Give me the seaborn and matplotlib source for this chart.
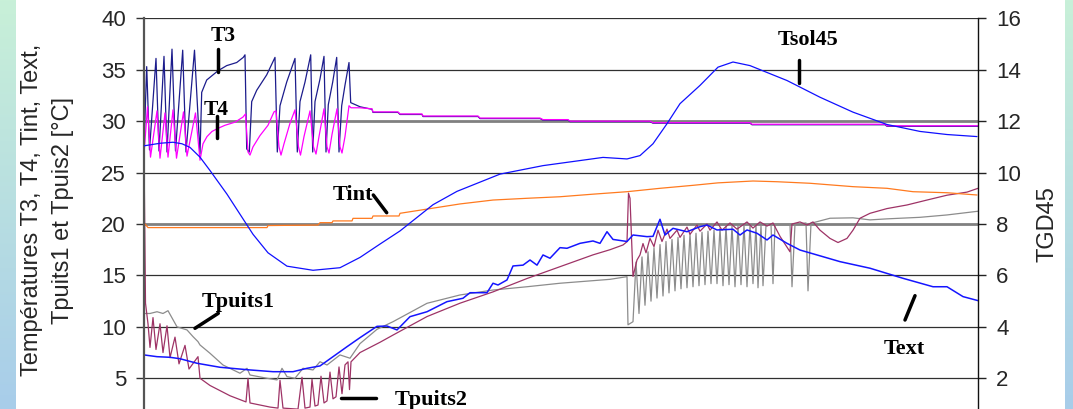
import numpy as np
import pandas as pd
import matplotlib
matplotlib.use("Agg")
import matplotlib.pyplot as plt
from matplotlib.lines import Line2D
from matplotlib.transforms import Affine2D
from matplotlib.colors import LinearSegmentedColormap
import seaborn as sns

sns.set_theme(style="white")
plt.rcParams['font.family'] = ['Liberation Sans', 'DejaVu Sans']

# time axis in hours, temperatures in degC (left axis), TGD45 on right axis
t3_h = [0, 0.27, 0.55, 1.2, 1.5, 2.0, 2.3, 2.8, 3.15, 3.87, 4.2, 5.05, 5.6, 5.77, 6.27, 7.4,
        8.27, 9.27, 9.93, 10.1, 10.27, 10.53, 10.77, 11.27, 12.27, 13.1, 13.33, 13.6, 14.27,
        15.1, 15.33, 15.6, 16.1, 16.67, 16.87, 17.1, 17.6, 18.0, 18.2, 18.43, 18.87, 19.27,
        19.5, 19.77, 20.1, 20.5, 20.67, 21.6]
t3_v = [27.5, 35.3, 27.2, 36.1, 27.1, 36.3, 27.0, 37.0, 27.1, 36.9, 27.0, 36.9, 26.8, 32.8,
        34.0, 34.9, 35.4, 35.7, 36.2, 36.45, 27.3, 27.0, 31.9, 33.0, 34.5, 36.2, 27.0, 31.5,
        33.8, 36.1, 27.0, 31.9, 33.8, 36.45, 27.0, 31.9, 34.1, 36.3, 27.0, 31.6, 33.8, 36.2,
        27.0, 31.5, 33.5, 35.7, 31.8, 31.4]

t4_h = [0, 0.35, 0.65, 1.3, 1.6, 2.1, 2.4, 2.9, 3.25, 3.95, 4.3, 5.15, 5.6, 5.9, 6.3, 6.8,
        7.4, 8.1, 9.1, 9.9, 10.15, 10.4, 10.6, 10.9, 11.6, 12.4, 13.0, 13.2, 13.5, 13.7, 14.0,
        14.6, 15.1, 15.45, 15.65, 16.0, 16.6, 16.95, 17.2, 17.5, 18.0, 18.3, 18.5, 18.8, 19.3,
        19.6, 19.8, 20.1, 20.5, 20.7, 21.6]
t4_v = [26.8, 31.4, 26.5, 31.0, 26.4, 30.8, 26.5, 31.1, 26.4, 30.9, 26.6, 30.8, 26.2, 27.8,
        28.5, 29.0, 29.3, 29.6, 29.9, 30.4, 30.7, 27.0, 26.7, 27.5, 28.6, 29.6, 30.9, 31.0,
        27.5, 26.7, 27.8, 29.8, 31.1, 27.5, 26.7, 28.5, 31.0, 27.5, 26.8, 28.5, 31.2, 27.5,
        26.9, 28.7, 31.2, 27.5, 26.9, 28.5, 31.5, 31.3, 31.3]

# common slow decay of T3 and T4 after the cycling stops
tail_h = [22.8, 22.9, 25.4, 25.6, 27.8, 27.9, 33.4, 33.6, 39.6, 39.9, 42.4, 42.6, 50.6,
          50.9, 60.6, 60.8, 74.1, 74.3, 83.4]
tail_v = [31.2, 30.9, 30.9, 30.7, 30.7, 30.5, 30.5, 30.3, 30.3, 30.15, 30.15, 30.0, 30.0,
          29.85, 29.85, 29.7, 29.7, 29.55, 29.55]

tint_h = [0.1, 0.4, 12.3, 12.4, 17.4, 17.6, 18.8, 18.9, 20.8, 20.9, 22.8, 22.9, 25.5, 25.6,
          31.6, 34.9, 38.3, 41.6, 44.9, 48.3, 51.6, 54.9, 57.4, 60.9, 63.3, 66.6, 70.9, 74.3,
          76.9, 80.3, 83.3]
tint_v = [20.0, 19.65, 19.65, 19.85, 19.9, 20.13, 20.13, 20.3, 20.3, 20.55, 20.55, 20.78,
          20.78, 21.04, 21.95, 22.33, 22.5, 22.65, 22.9, 23.14, 23.47, 23.76, 24.0, 24.18,
          24.11, 23.96, 23.63, 23.47, 23.14, 23.04, 22.82]

text_h = [0, 1.3, 2.6, 3.6, 5.3, 7.6, 10.6, 12.9, 14.9, 16.3, 17.6, 18.9, 20.3, 21.6, 23.3,
          24.3, 25.3, 26.6, 28.3, 30.3, 31.9, 32.6, 34.3, 34.9, 35.4, 36.3, 36.9, 37.9, 38.6,
          39.3, 39.9, 40.6, 41.6, 42.3, 43.6, 44.9, 45.6, 46.3, 46.9, 48.3, 48.9, 50.3, 50.9,
          51.6, 52.1, 52.9, 54.3, 55.6, 56.3, 57.3, 58.9, 59.6, 60.3, 61.3, 62.3, 62.9, 64.3,
          65.6, 67.3, 69.6, 72.6, 75.9, 78.9, 80.3, 81.9, 83.4]
text_v = [7.27, 7.1, 7.04, 6.9, 6.46, 6.07, 5.81, 5.64, 5.64, 5.97, 6.2, 7.1, 8.07, 8.95,
          10.05, 10.08, 9.7, 10.99, 11.47, 12.45, 12.78, 13.32, 13.32, 14.24, 14.07, 14.56,
          15.92, 16.0, 16.5, 16.0, 16.99, 16.67, 17.7, 17.64, 18.12, 18.35, 18.12, 19.25,
          18.5, 18.3, 18.93, 18.77, 18.8, 20.46, 18.93, 19.58, 19.25, 19.74, 19.9, 19.42,
          19.49, 18.93, 19.42, 19.1, 18.45, 18.93, 18.12, 17.47, 16.99, 16.34, 15.7, 14.72,
          13.9, 13.9, 12.94, 12.55]

tp1_h = [0.1, 0.6, 1.3, 1.9, 2.4, 3.3, 4.3, 4.9, 5.4, 5.6, 6.6, 7.9, 9.6, 10.3, 10.6, 12.3,
         13.3, 13.8, 14.3, 15.1, 15.9, 16.9, 17.6, 18.3, 19.6, 20.6, 21.6, 23.3, 24.9, 28.3,
         31.6, 34.9, 38.3, 41.6, 44.9, 46.6, 48.3, 48.4, 48.9,
         49.2, 49.5, 49.8, 50.1, 50.4, 50.7, 51.0, 51.3, 51.6, 51.9, 52.2, 52.5, 52.8, 53.1,
         53.4, 53.7, 54.0, 54.3, 54.6, 54.9, 55.2, 55.5, 55.8, 56.1, 56.4, 56.7, 57.0, 57.3,
         57.6, 57.9, 58.2, 58.5, 58.8, 59.1, 59.4, 59.7, 60.0, 60.3, 60.6, 60.9, 61.2, 61.4,
         61.7, 61.9, 62.2, 62.7, 62.9, 63.1, 64.6, 64.8, 65.1, 66.2, 66.4, 66.7, 68.6, 70.9,
         72.6, 74.3, 77.6, 80.3, 83.4]
tp1_v = [11.3, 11.3, 11.47, 11.3, 11.57, 10.0, 9.7, 9.05, 8.56, 8.24, 7.43, 6.29, 5.49, 5.97,
         5.32, 5.0, 4.84, 5.97, 5.16, 5.0, 5.97, 5.81, 6.61, 6.29, 7.27, 6.95, 8.37, 9.76,
         10.5, 12.29, 13.1, 13.58, 13.9, 14.24, 14.49, 14.62, 14.88, 10.2, 10.5,
         16.3, 11.3, 16.8, 12.1, 17.3, 12.5, 17.7, 12.8, 18.0, 13.0, 18.3, 13.3, 18.5, 13.5,
         18.7, 13.7, 18.9, 13.8, 19.0, 13.9, 19.1, 14.0, 19.2, 14.1, 19.3, 14.2, 19.4, 14.2,
         19.6, 14.0, 19.8, 14.1, 19.8, 13.9, 19.8, 14.1, 19.9, 13.9, 19.9, 14.2, 19.9, 13.8,
         19.9, 14.0, 19.9, 20.0, 14.2, 20.0, 20.0, 13.9, 20.0, 20.1, 13.5, 20.07, 20.56, 20.6,
         20.4, 20.5, 20.65, 20.88, 21.24]

tp2_h = [0, 0.15, 0.4, 0.6, 0.9, 1.2, 1.6, 1.9, 2.3, 2.6, 3.1, 3.5, 4.1, 4.5, 5.4, 5.6, 6.6,
         8.6, 10.2, 10.4, 10.6, 12.6, 13.4, 13.6, 13.9, 15.4, 15.8, 16.1, 16.6, 16.8, 17.1,
         17.4, 17.7, 18.0, 18.3, 18.6, 18.9, 19.2, 19.5, 19.8, 20.1, 20.4, 20.55, 20.7, 21.6,
         23.6, 24.9, 28.3, 31.6, 34.9, 38.3, 41.6, 44.9, 46.6, 47.9, 48.3, 48.45, 48.6, 48.9,
         49.3, 49.6, 49.9, 50.2, 50.6, 51.0, 51.4, 51.8, 52.3, 52.6, 53.3, 53.6, 54.3, 54.6,
         55.3, 55.6, 56.3, 56.6, 57.3, 57.8, 58.6, 59.3, 60.3, 60.9, 61.6, 62.3, 62.9, 63.6,
         64.6, 64.8, 65.6, 66.3, 66.9, 67.6, 68.6, 69.4, 70.3, 70.9, 71.6, 72.6, 74.3, 76.3,
         78.3, 80.3, 82.3, 83.4]
tp2_v = [27.0, 12.3, 10.3, 8.0, 10.9, 7.8, 10.3, 7.5, 10.1, 7.0, 9.0, 6.4, 8.2, 5.9, 7.1, 5.0,
         4.3, 3.3, 2.7, 5.0, 2.6, 2.2, 2.1, 4.8, 2.1, 2.0, 5.1, 2.1, 2.2, 4.9, 2.3, 2.4, 5.2,
         2.6, 2.8, 5.6, 3.0, 3.2, 6.1, 3.5, 6.3, 6.6, 3.9, 6.6, 7.5, 8.5, 9.2, 11.0, 12.3,
         13.4, 14.7, 15.85, 17.0, 17.5, 17.96, 18.28, 23.0, 22.5, 14.9, 16.5, 17.0, 18.1,
         17.2, 18.6, 17.8, 19.4, 18.3, 19.5, 18.6, 19.4, 18.7, 19.7, 19.0, 19.9, 19.3, 20.0,
         19.4, 20.2, 19.4, 20.1, 19.5, 20.2, 19.6, 20.2, 19.8, 20.1, 18.8, 17.3, 20.0, 20.2,
         19.9, 20.2, 19.4, 18.6, 18.2, 18.6, 19.4, 20.56, 21.04, 21.5, 21.85, 22.33, 22.8,
         23.1, 23.47]

tsol_h = [0, 1.6, 2.9, 3.8, 4.6, 5.6, 6.6, 8.3, 9.6, 10.9, 12.4, 14.3, 16.9, 19.6, 21.6, 23.6,
          25.6, 28.9, 31.3, 35.6, 39.9, 45.9, 48.3, 49.6, 50.9, 52.3, 53.6, 55.6, 57.4, 58.9,
          60.6, 64.3, 67.6, 70.9, 74.3, 77.6, 80.3, 83.3]
tsol_v = [11.04, 11.14, 11.18, 11.12, 10.98, 10.6, 10.08, 9.16, 8.38, 7.6, 6.88, 6.36, 6.2,
          6.3, 6.7, 7.22, 7.73, 8.75, 9.27, 9.94, 10.27, 10.59, 10.53, 10.66, 11.12, 11.9,
          12.68, 13.39, 14.1, 14.3, 14.16, 13.58, 12.93, 12.35, 11.87, 11.6, 11.48, 11.4]

left_ticks = [5, 10, 15, 20, 25, 30, 35, 40]
right_ticks = [2, 4, 6, 8, 10, 12, 14, 16]

W, H = 1073, 409
fig = plt.figure(figsize=(W / 100, H / 100), dpi=100)
pix = Affine2D().scale(1 / W, -1 / H).translate(0, 1) + fig.transFigure

# light gradient strips on both sides
strip_cmap = LinearSegmentedColormap.from_list("strip", ["#c8f0d8", "#a8cdea"])
for x0, w in [(0, 16), (1065, 8)]:
    bg = fig.add_axes([x0 / W, 0, w / W, 1])
    bg.imshow(np.linspace(0, 1, 200)[:, None], aspect="auto", cmap=strip_cmap)
    bg.set_axis_off()

# main axes: the 0 degC line lies just below the picture
y_top, y_zero = 18.3, 429.7
ax = fig.add_axes([144 / W, 1 - y_zero / H, 834 / W, (y_zero - y_top) / H])
ax2 = ax.twinx()


def draw(a, h, v, color, lw=0.9):
    df = pd.DataFrame({"h": h, "v": v})
    sns.lineplot(data=df, x="h", y="v", ax=a, color=color, lw=lw,
                 estimator=None, sort=False, legend=False)


draw(ax, tp1_h, tp1_v, "#8c8c8c")
draw(ax, tp2_h, tp2_v, "#9e3366")
draw(ax, text_h, text_v, "#1515ff", lw=1.1)
draw(ax, tint_h, tint_v, "#ff7a1f")
draw(ax, t3_h + tail_h, t3_v + [v - 0.05 for v in tail_v], "#1c1c8c")
draw(ax, t4_h + tail_h, t4_v + tail_v, "#ff00ff")
draw(ax2, tsol_h, tsol_v, "#1010ff")

ax.set_xlim(0, 83.4)
ax.set_ylim(0, 40)
ax2.set_ylim(0, 16)
ax.set_yticks(left_ticks)
ax2.set_yticks(right_ticks)
ax.set_xticks([])
for a in (ax, ax2):
    a.set_xlabel("")
    a.set_ylabel("")
ax.tick_params(axis="y", direction="out", length=6, width=1, color="#333333",
               labelsize=16, pad=7, left=True)
ax2.tick_params(axis="y", direction="out", length=6, width=1, color="#222222",
                labelsize=16, pad=7, right=True)

ax.yaxis.grid(True, color="#303030", lw=0.9)
ax.xaxis.grid(False)
ax2.grid(False)
for val, line in zip(left_ticks, ax.get_ygridlines()):
    if val in (20, 30):
        line.set_color("#808080")
        line.set_linewidth(2.0)

for s in ("top", "bottom", "right"):
    ax.spines[s].set_visible(False)
for s in ("top", "bottom", "left"):
    ax2.spines[s].set_visible(False)
ax.spines["left"].set_color("#555555")
ax.spines["left"].set_linewidth(1.6)
ax2.spines["right"].set_color("#111111")
ax2.spines["right"].set_linewidth(1.0)

# axis titles
fig.text(32, 210, "Températures T3, T4, Tint, Text,", transform=pix, rotation=90,
         ha="center", va="center", fontsize=17)
fig.text(63, 210, "Tpuits1 et Tpuis2 [°C]", transform=pix, rotation=90,
         ha="center", va="center", fontsize=17)
fig.text(1047, 224, "TGD45", transform=pix, rotation=90,
         ha="center", va="center", fontsize=17)

# series labels with short leader strokes
labels = [("T3", 223, 41, 15.5), ("T4", 215.7, 115, 15.5), ("Tint", 353, 200, 16),
          ("Tpuits1", 238, 306.7, 16), ("Tpuits2", 431.5, 405, 16),
          ("Tsol45", 808, 45, 16), ("Text", 904, 354, 16)]
for s, x, y, fs in labels:
    fig.text(x, y, s, transform=pix, ha="center", va="baseline", fontsize=fs,
             fontweight="bold", family="Liberation Serif", color="black")

leaders = [((218.3, 218.3), (49.3, 71.7)), ((216.7, 216.7), (116, 137.7)),
           ((373.3, 386.7), (195, 212.7)), ((195, 218.3), (328.3, 313.3)),
           ((341, 376), (397.5, 397.5)), ((799.3, 799.3), (60, 82.7)),
           ((915, 905), (295.7, 320))]
for xs, ys in leaders:
    fig.add_artist(Line2D(xs, ys, transform=pix, color="black", lw=2.5))

fig.savefig("out.png", dpi=100)
